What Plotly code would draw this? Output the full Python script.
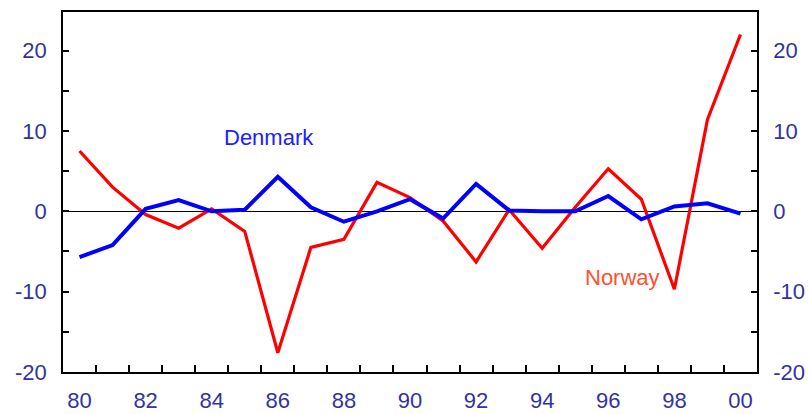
import plotly.graph_objects as go

years = list(range(1980, 2001))
year_pos = [y - 1900 for y in years]
denmark = [-5.7, -4.2, 0.3, 1.4, 0.0, 0.2, 4.3, 0.5, -1.3, 0.0, 1.5, -0.9, 3.4, 0.1, 0.0, 0.0, 1.9, -1.0, 0.6, 1.0, -0.3]
norway = [7.5, 3.0, -0.4, -2.1, 0.3, -2.5, -17.6, -4.5, -3.5, 3.6, 1.7, -1.2, -6.3, 0.2, -4.6, 0.5, 5.3, 1.5, -9.7, 11.4, 22.0]

x_label_vals = [80, 82, 84, 86, 88, 90, 92, 94, 96, 98, 100]
x_label_text = ["80", "82", "84", "86", "88", "90", "92", "94", "96", "98", "00"]
x_tick_vals = [v + 0.5 for v in range(80, 100)]
y_tick_vals = [-20, -15, -10, -5, 0, 5, 10, 15, 20]
y_tick_text = ["-20", "", "-10", "", "0", "", "10", "", "20"]

FONT = "Liberation Sans, Arial, sans-serif"
TICKC = "#3333a0"
FS = 22

fig = go.Figure()
fig.add_trace(go.Scatter(x=year_pos, y=norway, mode="lines", line=dict(color="#ff0000", width=3.2), showlegend=False))
fig.add_trace(go.Scatter(x=year_pos, y=denmark, mode="lines", line=dict(color="#0000ff", width=4), showlegend=False))
# invisible trace to anchor secondary axes
fig.add_trace(go.Scatter(x=year_pos, y=denmark, mode="lines", line=dict(width=0), opacity=0,
                         xaxis="x2", yaxis="y2", showlegend=False, hoverinfo="skip"))

fig.add_annotation(x=85.73, y=9.2, text="Denmark", showarrow=False, font=dict(color="#2020ff", size=FS, family=FONT))
fig.add_annotation(x=96.44, y=-8.2, text="Norway", showarrow=False, font=dict(color="#ff5030", size=FS, family=FONT))

xr = [79.5, 100.5]
yr = [-20, 24.8]
fig.update_layout(
    width=808, height=414,
    margin=dict(l=63, r=51, t=12, b=42, autoexpand=False),
    paper_bgcolor="white", plot_bgcolor="white",
    font=dict(family=FONT, size=FS, color=TICKC),
    xaxis=dict(range=xr, tickmode="array", tickvals=x_label_vals, ticktext=x_label_text, automargin=False,
               ticks="", showgrid=False, zeroline=False, showline=True, linecolor="black", linewidth=1.5,
               mirror=True, ticklabelstandoff=8, tickfont=dict(size=FS, color=TICKC)),
    xaxis2=dict(range=xr, overlaying="x", side="bottom", anchor="y", tickmode="array", tickvals=x_tick_vals,
                showticklabels=False, ticks="inside", ticklen=7, tickcolor="black", tickwidth=1.5, automargin=False,
                showgrid=False, zeroline=False, showline=False),
    yaxis=dict(range=yr, tickmode="array", tickvals=y_tick_vals, ticktext=y_tick_text, automargin=False,
               ticks="inside", ticklen=6, tickcolor="black", tickwidth=1.5, showgrid=False,
               zeroline=True, zerolinecolor="black", zerolinewidth=1,
               showline=True, linecolor="black", linewidth=1.5, ticklabelstandoff=10,
               tickfont=dict(size=FS, color=TICKC)),
    yaxis2=dict(range=yr, overlaying="y", side="right", anchor="x", tickmode="array", tickvals=y_tick_vals,
                ticktext=y_tick_text, ticks="inside", ticklen=6, tickcolor="black", tickwidth=1.5, automargin=False,
                showgrid=False, zeroline=False, showline=True, linecolor="black", linewidth=1.5,
                ticklabelstandoff=10, tickfont=dict(size=FS, color=TICKC)),
)

fig.write_html("out.html", config={"displayModeBar": False},
               post_script="document.body.style.margin='0';document.body.style.overflow='hidden';")
